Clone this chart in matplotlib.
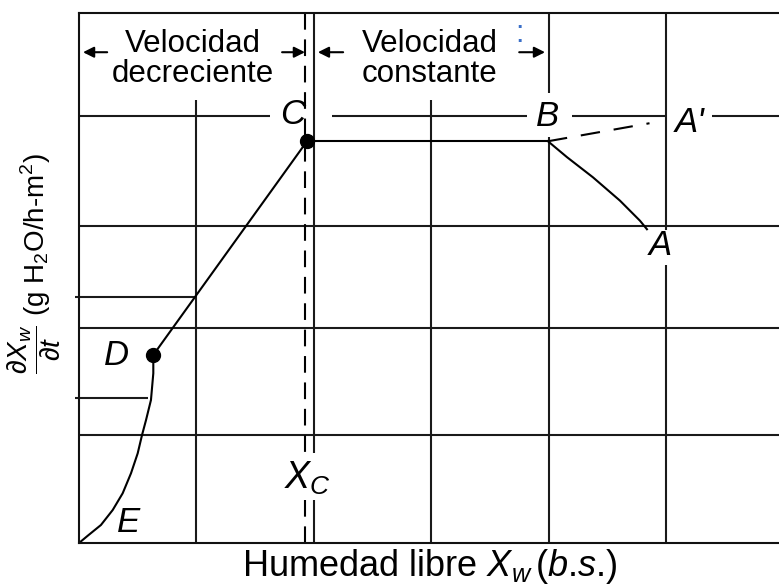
import matplotlib
matplotlib.use("Agg")
import matplotlib.pyplot as plt

plt.rcParams['font.family'] = ['Liberation Sans', 'DejaVu Sans']
plt.rcParams['mathtext.fontset'] = 'custom'
plt.rcParams['mathtext.rm'] = 'Liberation Sans'
plt.rcParams['mathtext.it'] = 'Liberation Sans:italic'
plt.rcParams['mathtext.bf'] = 'Liberation Sans:bold'
plt.rcParams['lines.scale_dashes'] = False

# ---- data (grid units: x = moisture, y = drying rate) ----
const_x = [1.942, 3.995]
const_y = [3.79, 3.79]
ba_x = [3.995, 4.157, 4.378, 4.608, 4.779, 4.838]
ba_y = [3.79, 3.64, 3.45, 3.23, 3.04, 2.96]
bap_x = [3.995, 4.86]
bap_y = [3.79, 3.96]
cd_x = [1.942, 0.633]
cd_y = [3.79, 1.774]
de_x = [0.633, 0.633, 0.613, 0.571, 0.537, 0.500, 0.443, 0.372, 0.287, 0.187, 0.077, 0.0]
de_y = [1.774, 1.601, 1.349, 1.160, 1.019, 0.846, 0.658, 0.469, 0.311, 0.170, 0.071, 0.0]
dots_x = [1.942, 0.633]
dots_y = [3.79, 1.774]
xc_value = 1.925

point_labels = ['C', 'B', "A'", 'A', 'D', 'E']
label_x = [1.82, 3.995, 5.2, 4.95, 0.32, 0.42]
label_y = [4.04, 4.02, 3.97, 2.81, 1.77, 0.19]

# grid segments
vgrid = [(1, 0, 4.18), (2, 0, 0.41), (2, 0.85, 5), (3, 0, 4.18),
         (4, 0, 3.83), (4, 4.245, 5), (5, 0, 2.62), (5, 2.95, 5)]
hgrid = [(1.02, 0, 5.963), (2.03, 0, 5.963), (2.99, 0, 5.963),
         (4.03, 0, 1.627), (4.03, 2.155, 3.816), (4.03, 4.2, 5.0), (4.03, 5.39, 5.963),
         (2.32, -0.034, 0.99), (1.37, -0.034, 0.59)]

W, H = 779, 587
fig = plt.figure(figsize=(W / 100, H / 100), dpi=100)
ax = fig.add_axes([79 / W, 44 / H, 700 / W, 530 / H])
ax.set_xlim(0, 5.963)
ax.set_ylim(0, 5)
ax.set_xticks([])
ax.set_yticks([])
ax.spines['right'].set_visible(False)
for s in ['left', 'bottom', 'top']:
    ax.spines[s].set_linewidth(1.5)
    ax.spines[s].set_color('#111111')

lw = 1.5
gc = '#1a1a1a'
for x, y0, y1 in vgrid:
    ax.plot([x, x], [y0, y1], color=gc, lw=lw, clip_on=False, solid_capstyle='butt')
for y, x0, x1 in hgrid:
    ax.plot([x0, x1], [y, y], color=gc, lw=lw, clip_on=False, solid_capstyle='butt')

# dashed X_C line
ax.plot([xc_value, xc_value], [5, 0.85], color='black', lw=lw, dashes=(12, 7))
ax.plot([xc_value, xc_value], [0.41, 0], color='black', lw=lw, dashes=(12, 7))

# curves
ax.plot(const_x, const_y, color='black', lw=lw)
ax.plot(ba_x, ba_y, color='black', lw=lw)
ax.plot(bap_x, bap_y, color='black', lw=lw, dashes=(14, 10))
ax.plot(cd_x, cd_y, color='black', lw=lw)
ax.plot(de_x, de_y, color='black', lw=lw, solid_joinstyle='round')
ax.plot(dots_x, dots_y, 'o', color='black', ms=10, zorder=5)

for t, x, y in zip(point_labels, label_x, label_y):
    ax.text(x, y, t, fontsize=25, style='italic', ha='center', va='center')
ax.text(1.95, 0.61, r'$X_C$', fontsize=27, ha='center', va='center')

# region labels and arrows
ax.text(0.97, 4.565, 'Velocidad\ndecreciente', fontsize=22.5, ha='center', va='center',
        linespacing=1.0)
ax.text(2.99, 4.565, 'Velocidad\nconstante', fontsize=22.5, ha='center', va='center',
        linespacing=1.0)
ap = dict(arrowstyle='-|>', lw=1.5, color='black', mutation_scale=16, shrinkA=0, shrinkB=0)
for (x0, x1) in [(0.24, 0.034), (1.73, 1.925), (2.25, 2.035), (3.75, 3.97)]:
    ax.annotate('', xy=(x1, 4.63), xytext=(x0, 4.63), arrowprops=ap)
ax.text(3.756, 4.80, ':', fontsize=22, color='#3a6fc8', ha='center', va='center')

fig.text(430 / W, 1 - 566 / H, r'Humedad libre $X_w\,(b$.$s$.)', fontsize=26,
         ha='center', va='center')
fig.text(34 / W, 1 - 264 / H,
         r'$\dfrac{\partial X_w}{\partial t}$ (g H$_2$O/h-m$^2$)', fontsize=20,
         rotation=90, ha='center', va='center')

fig.savefig('out.png', dpi=100)
